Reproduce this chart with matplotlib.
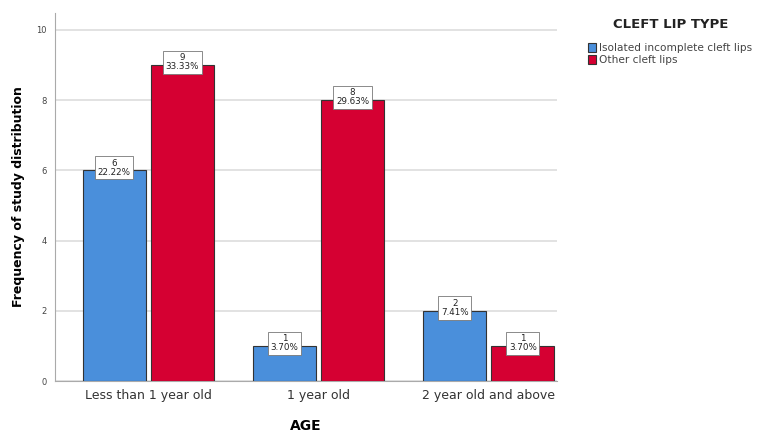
import matplotlib
matplotlib.use("Agg")
import matplotlib.pyplot as plt
import numpy as np

categories = ["Less than 1 year old", "1 year old", "2 year old and above"]
series_names = ["Isolated incomplete cleft lips", "Other cleft lips"]
isolated = [6, 1, 2]
other = [9, 8, 1]
isolated_pct = ["22.22%", "3.70%", "7.41%"]
other_pct = ["33.33%", "29.63%", "3.70%"]
yticks = [0, 2, 4, 6, 8, 10]

colors = ["#4A8FDB", "#D50032"]

fig = plt.figure(figsize=(7.57, 4.32), dpi=100)
ax = fig.add_axes([0.0727, 0.118, 0.663, 0.852])

x = np.arange(len(categories))
w = 0.37
gap = 0.03
offs = [-(w + gap) / 2, (w + gap) / 2]
allvals = [isolated, other]
allpct = [isolated_pct, other_pct]
for i in range(2):
    bars = ax.bar(x + offs[i], allvals[i], width=w, color=colors[i],
                  edgecolor="#333333", linewidth=0.8, label=series_names[i], zorder=3)
    for b, v, p in zip(bars, allvals[i], allpct[i]):
        ax.annotate(f"{v}\n{p}", xy=(b.get_x() + b.get_width() / 2, v),
                    xytext=(0, 2), textcoords="offset points",
                    ha="center", va="center",
                    fontsize=6.3, color="#222222", linespacing=1.0, zorder=5,
                    bbox=dict(boxstyle="square,pad=0.3", fc="white", ec="#777777", lw=0.6))

ax.set_xlim(-0.547, 2.4)
ax.set_ylim(0, 10.48)
ax.set_yticks(yticks)
ax.set_yticklabels([str(t) for t in yticks], fontsize=6, color="#444444")
ax.set_xticks(x)
ax.set_xticklabels(categories, fontsize=9, color="#333333")
ax.tick_params(axis="both", length=0, pad=6)
ax.grid(axis="y", color="#dddddd", linewidth=1.2, zorder=0)
for s in ["top", "right"]:
    ax.spines[s].set_visible(False)
ax.spines["left"].set_color("#aaaaaa")
ax.spines["bottom"].set_color("#aaaaaa")
ax.set_xlabel("AGE", fontsize=10, fontweight="bold", labelpad=12)
ax.set_ylabel("Frequency of study distribution", fontsize=9, fontweight="bold", labelpad=8)

leg = ax.legend(loc="upper left", bbox_to_anchor=(1.062, 0.918), frameon=False,
                fontsize=7.6, handlelength=0.75, handleheight=0.9,
                handletextpad=0.3, labelspacing=0.15, borderaxespad=0, borderpad=0)
for t in leg.get_texts():
    t.set_color("#444444")
fig.text(671 / 757, 1 - 25 / 432, "CLEFT LIP TYPE", ha="center", va="center",
         fontsize=9.5, fontweight="bold", color="#222222")

fig.savefig("out.png", dpi=100)
